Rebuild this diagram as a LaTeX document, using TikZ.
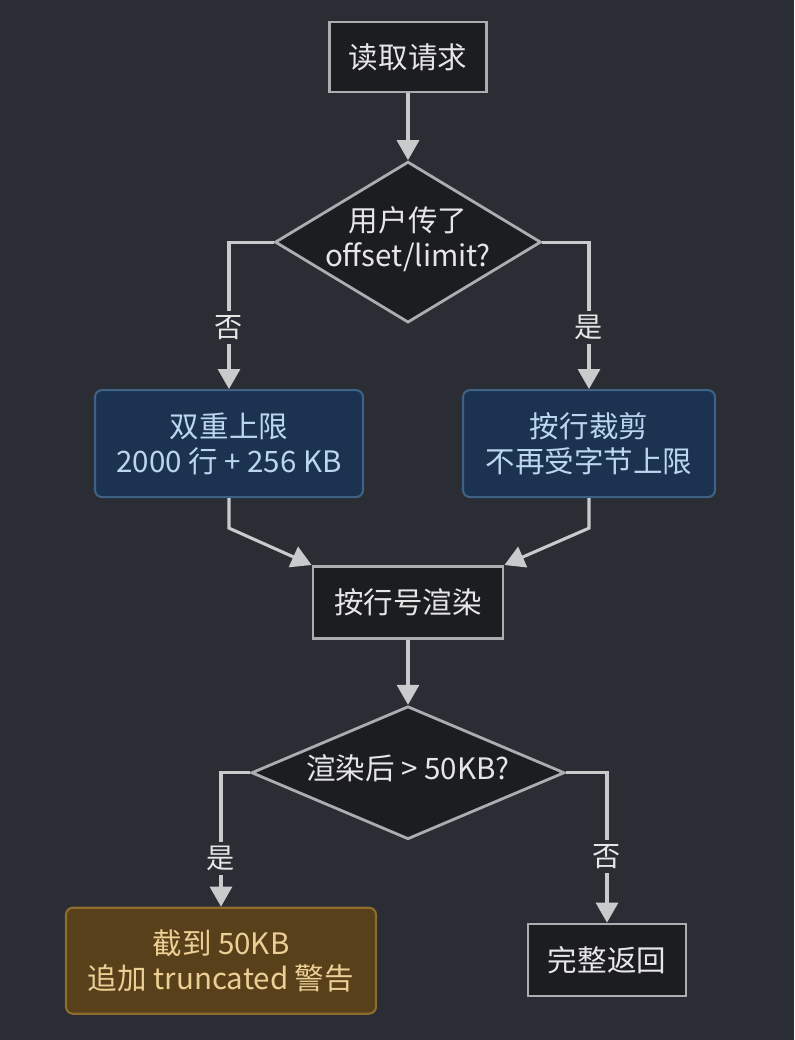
\documentclass[tikz,border=0pt]{standalone}
\usepackage{fontspec}
\setmainfont{Noto Sans CJK SC}
\usetikzlibrary{arrows.meta,positioning,shapes.geometric}

\definecolor{bgdark}{HTML}{2A2D33}
\definecolor{boxfill}{HTML}{1C1D20}
\definecolor{boxline}{HTML}{ABADB0}
\definecolor{boxtext}{HTML}{E6E6E6}
\definecolor{arrowgray}{HTML}{C9CACC}
\definecolor{bluefill}{HTML}{1B3250}
\definecolor{blueline}{HTML}{3E6285}
\definecolor{bluetext}{HTML}{BCD6EE}
\definecolor{goldfill}{HTML}{57401A}
\definecolor{goldline}{HTML}{8E6C2E}
\definecolor{goldtext}{HTML}{EBCF95}

% text that may run over the edge of a diamond
\newcommand{\nowidth}[1]{\makebox[0pt]{\begin{tabular}{@{}c@{}}#1\end{tabular}}}

\begin{document}
\begin{tikzpicture}[
    >={Triangle[width=0.55cm,length=0.5cm]},
    font=\fontsize{21}{25}\selectfont,
    proc/.style={draw=boxline, line width=2pt, fill=boxfill, text=boxtext,
                 minimum height=1.8cm, inner sep=0pt, align=center},
    tint/.style={draw=#1line, line width=1.5pt, fill=#1fill, text=#1text,
                 rounded corners=5pt, minimum height=2.675cm, inner sep=0pt, align=center},
    tint/.default=blue,
    decide/.style={diamond, draw=boxline, line width=2pt, fill=boxfill, text=boxtext,
                   inner sep=0pt},
    arr/.style={->, line width=2.2pt, draw=arrowgray},
    lbl/.style={fill=bgdark, text=boxtext, inner sep=3pt, font=\fontsize{20}{24}\selectfont},
]

\fill[bgdark] (0,0) rectangle (19.85,-26);

% --- Nodes ---
\node[proc, minimum width=3.925cm, minimum height=1.75cm] (read) at (10.2,-1.425) {读取请求};
\node[decide, minimum width=6.65cm, minimum height=4.025cm, below=1.67cm of read] (hasrange)
    {\nowidth{用户传了\\offset/limit?}};
\node[tint=blue, minimum width=6.7cm, below=1.625cm of hasrange, xshift=-4.475cm] (dualcap)
    {双重上限\\2000 行 + 256 KB};
\node[tint=blue, minimum width=6.3cm, below=1.625cm of hasrange, xshift=4.525cm] (bylines)
    {按行裁剪\\不再受字节上限};
\node[proc, minimum width=4.75cm, below=6.025cm of hasrange] (render) {按行号渲染};
\node[decide, minimum width=7.825cm, minimum height=3.325cm, below=1.625cm of render] (toobig)
    {\nowidth{渲染后 > 50KB?}};
\node[tint=gold, minimum width=7.75cm, minimum height=2.65cm, below=1.65cm of toobig, xshift=-4.675cm] (trunc)
    {截到 50KB\\追加 truncated 警告};
\node[proc, minimum width=3.95cm, below=2.05cm of toobig, xshift=4.975cm] (full) {完整返回};

% --- Arrows ---
\draw[arr] (read) -- (hasrange);
\draw[arr] (hasrange.west) -| (dualcap.north) node[lbl, pos=0.79] (no1) {否};
\draw[arr] (hasrange.east) -| (bylines.north) node[lbl, pos=0.79] (yes1) {是};
\draw[arr] (dualcap.south) -- ++(0,-0.75) -- (render.north west);
\draw[arr] (bylines.south) -- ++(0,-0.75) -- (render.north east);
\draw[arr] (render) -- (toobig);
\draw[arr] (toobig.west) -| (trunc.north) node[lbl, pos=0.82] (yes2) {是};
\draw[arr] (toobig.east) -| (full.north) node[lbl, pos=0.78] (no2) {否};

\end{tikzpicture}
\end{document}
